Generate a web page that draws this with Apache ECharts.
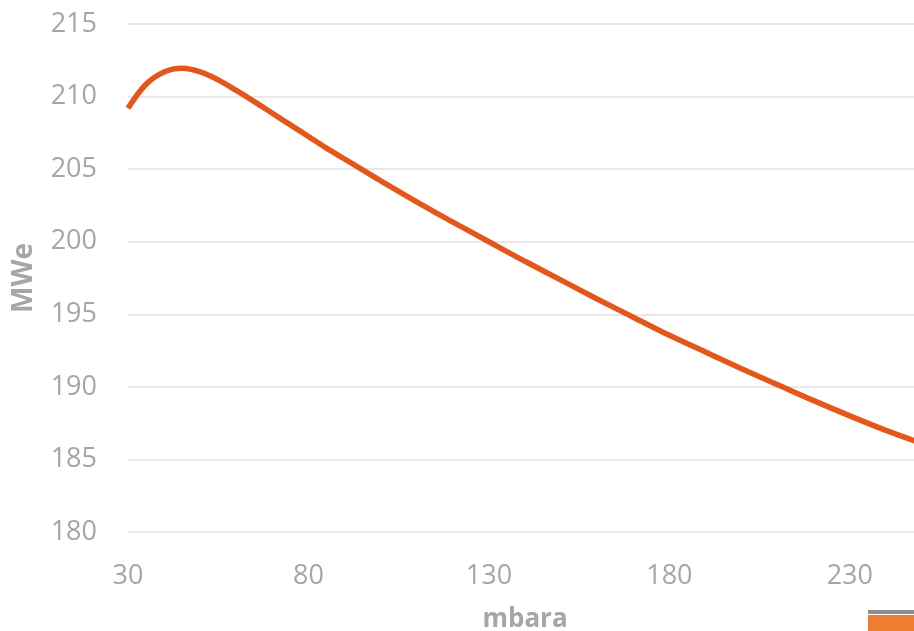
<!DOCTYPE html>
<html>
<head>
<meta charset="utf-8">
<title>MWe vs mbara</title>
<script src="https://cdn.jsdelivr.net/npm/echarts@6/dist/echarts.min.js"></script>
<style>
  html, body { margin: 0; padding: 0; background: #ffffff; }
  #chart { width: 914px; height: 631px; }
</style>
</head>
<body>
<div id="chart"></div>
<script>
// Back pressure (mbara) against gross output (MWe)
const pressure = [30, 35, 40, 45, 50, 55, 60, 65, 70, 75, 80, 85, 90, 95, 100, 110, 120, 130, 140, 150, 160, 170, 180, 190, 200, 210, 220, 230, 240, 250];
const power = [209.2, 210.85, 211.7, 211.95, 211.7, 211.15, 210.42, 209.65, 208.85, 208.05, 207.25, 206.45, 205.7, 204.95, 204.2, 202.75, 201.35, 200.0, 198.65, 197.35, 196.05, 194.8, 193.55, 192.4, 191.25, 190.15, 189.05, 188.0, 187.0, 186.1];

const xTicks = { min: 30, max: 250, interval: 50 };
const yTicks = { min: 180, max: 215, interval: 5 };

const labelFont = { fontFamily: 'Open Sans', fontSize: 27, color: '#a6a6a6' };

const chart = echarts.init(document.getElementById('chart'));
chart.setOption({
  animation: false,
  backgroundColor: '#ffffff',
  grid: { left: 128, right: -8, top: 24, bottom: 99, containLabel: false, outerBoundsMode: 'none' },
  xAxis: {
    type: 'value',
    min: xTicks.min,
    max: xTicks.max,
    interval: xTicks.interval,
    name: 'mbara',
    nameLocation: 'middle',
    nameGap: 75,
    nameTextStyle: { fontFamily: 'Open Sans', fontSize: 26, fontWeight: 'bold', color: '#a6a6a6' },
    axisLine: { show: false },
    axisTick: { show: false },
    splitLine: { show: false },
    axisLabel: Object.assign({ margin: 31, showMaxLabel: false }, labelFont)
  },
  yAxis: {
    type: 'value',
    min: yTicks.min,
    max: yTicks.max,
    interval: yTicks.interval,
    name: 'MWe',
    nameLocation: 'middle',
    nameGap: 90,
    nameTextStyle: { fontFamily: 'Open Sans', fontSize: 28, fontWeight: 'bold', color: '#a6a6a6' },
    axisLine: { show: false },
    axisTick: { show: false },
    splitLine: { lineStyle: { color: '#e8e8e8', width: 2 } },
    axisLabel: Object.assign({ margin: 31 }, labelFont)
  },
  series: [{
    type: 'line',
    data: pressure.map((p, i) => [p, power[i]]),
    smooth: 0.35,
    symbol: 'none',
    clip: true,
    lineStyle: { color: '#e5561a', width: 5.5 }
  }],
  graphic: [
    { type: 'rect', right: 0, bottom: 17, shape: { width: 46, height: 4 }, style: { fill: '#8c8c8c' } },
    { type: 'rect', right: 0, bottom: 0, shape: { width: 46, height: 16 }, style: { fill: '#ed7d31' } }
  ]
});
</script>
</body>
</html>
